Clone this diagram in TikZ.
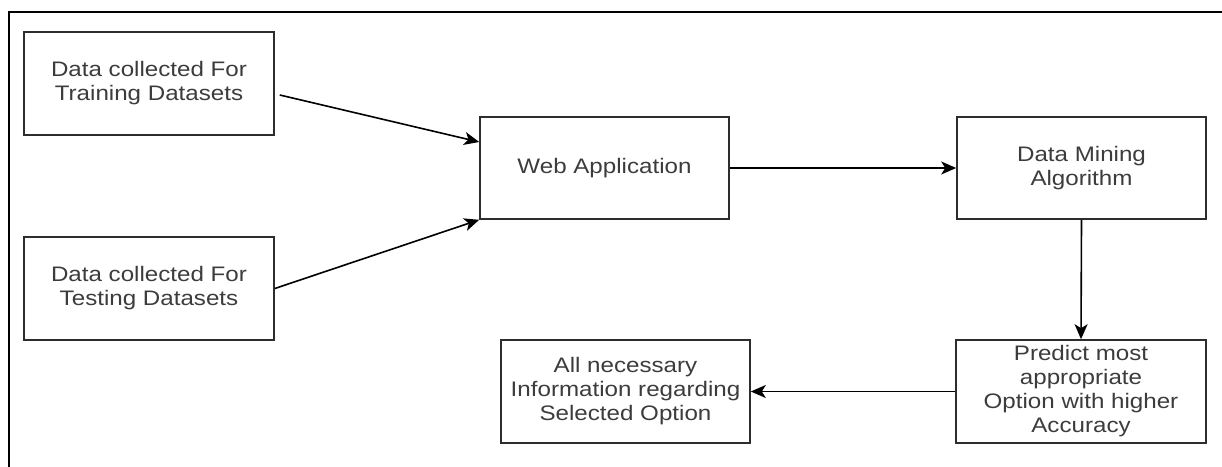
\documentclass[tikz,border=0pt]{standalone}
\usepackage{fontspec}
\setmainfont{Liberation Sans}[FakeStretch=1.15]
\usetikzlibrary{arrows.meta}
\definecolor{txt}{RGB}{60,60,60}
\definecolor{bord}{RGB}{45,45,45}
\tikzset{
  box/.style={draw=bord, line width=1.6pt, rectangle, fill=white,
    minimum width=250pt, minimum height=103pt, inner sep=2pt,
    align=center, text=txt, font=\fontsize{21}{24}\selectfont},
  conn/.style={draw=black, line width=1.6pt,
    -{Stealth[length=15pt,width=13pt,inset=4pt]}},
  frame/.style={draw=black, line width=1.8pt}
}
\begin{document}
\begin{tikzpicture}[x=1pt,y=-1pt]
\useasboundingbox (0,0) rectangle (1222,466);
\draw[frame] (9,470) -- (9,12) -- (1226,12);
\node[box] (b1) at (149,83.5) {Data collected For\\Training Datasets};
\node[box] (b2) at (149,288.5) {Data collected For\\Testing Datasets};
\node[box, minimum width=249pt, minimum height=102pt] (web) at (604.5,168) {Web Application};
\node[box, minimum width=249pt, minimum height=102pt] (dm) at (1081.5,168) {Data Mining\\Algorithm};
\node[box] (pred) at (1081,391.5) {Predict most\\appropriate\\Option with higher\\Accuracy};
\node[box, minimum width=249pt] (all) at (625.5,391.5) {All necessary\\Information regarding\\Selected Option};
\draw[conn] ([shift={(5,11.5)}]b1.east) -- ([shift={(0,-26)}]web.west);
\draw[conn] (b2.east) -- (web.south west);
\draw[conn] (web.east) -- (dm.west);
\draw[conn] (dm.south) -- (pred.north);
\draw[conn] (pred.west) -- (all.east);
\end{tikzpicture}
\end{document}
